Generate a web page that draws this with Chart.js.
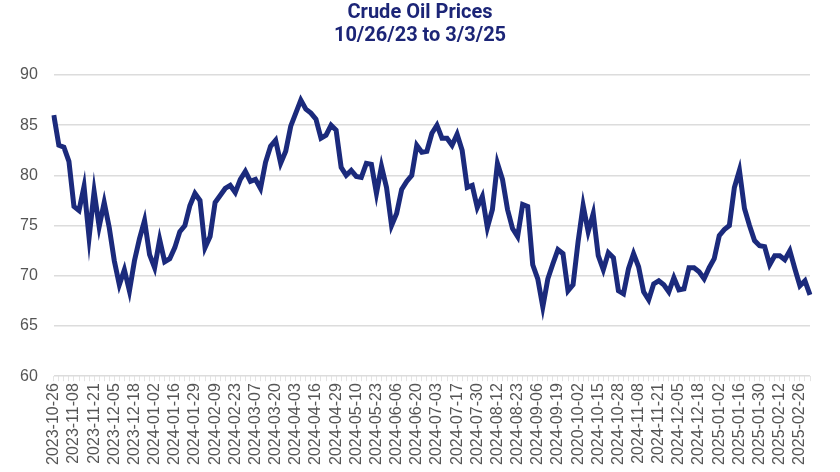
<!DOCTYPE html>
<html>
<head>
<meta charset="utf-8">
<script src="https://cdn.jsdelivr.net/npm/chart.js@4"></script>
<style>
  html, body { margin: 0; padding: 0; background: #fff; }
  #wrap { width: 840px; height: 472px; }
</style>
</head>
<body>
<div id="wrap"><canvas id="oilChart" width="840" height="472"></canvas></div>
<script>
const titleLines = ['Crude Oil Prices', '10/26/23 to 3/3/25'];

// tick labels shown on the x axis (one every 4 points)
const tickLabels = [
  '2023-10-26', '2023-11-08', '2023-11-21', '2023-12-05', '2023-12-18',
  '2024-01-02', '2024-01-16', '2024-01-29', '2024-02-09', '2024-02-23',
  '2024-03-07', '2024-03-20', '2024-04-03', '2024-04-16', '2024-04-29',
  '2024-05-10', '2024-05-23', '2024-06-06', '2024-06-20', '2024-07-03',
  '2024-07-17', '2024-07-30', '2024-08-12', '2024-08-23', '2024-09-06',
  '2024-09-19', '2020-10-02', '2024-10-15', '2024-10-28', '2024-11-08',
  '2024-11-21', '2024-12-05', '2024-12-18', '2025-01-02', '2025-01-16',
  '2025-01-30', '2025-02-12', '2025-02-26'
];

// crude oil price, $/bbl
const prices = [
  86.0, 83.0, 82.8, 81.4, 76.9, 76.5, 78.9, 73.8, 78.4, 74.9,
  77.3, 74.8, 71.5, 69.1, 70.6, 68.5, 71.5, 73.7, 75.5, 72.1,
  70.8, 73.6, 71.4, 71.7, 72.8, 74.4, 75.0, 77.0, 78.2, 77.5,
  72.8, 73.9, 77.3, 78.0, 78.7, 79.0, 78.3, 79.6, 80.4, 79.4,
  79.6, 78.7, 81.3, 82.9, 83.5, 81.2, 82.4, 84.9, 86.2, 87.5,
  86.6, 86.2, 85.6, 83.7, 84.0, 85.0, 84.5, 80.8, 80.0, 80.5,
  79.9, 79.8, 81.2, 81.1, 78.2, 80.9, 78.8, 75.0, 76.2, 78.6,
  79.4, 80.0, 83.0, 82.3, 82.4, 84.2, 85.0, 83.7, 83.7, 83.0,
  84.1, 82.5, 78.8, 79.0, 76.8, 77.9, 74.8, 76.6, 81.2, 79.6,
  76.6, 74.7, 73.9, 77.1, 76.9, 71.1, 69.7, 66.9, 69.7, 71.2,
  72.6, 72.2, 68.5, 69.1, 73.4, 77.0, 74.4, 76.2, 72.0, 70.6,
  72.3, 71.8, 68.5, 68.2, 70.7, 72.2, 70.9, 68.4, 67.6, 69.2,
  69.5, 69.1, 68.4, 69.8, 68.6, 68.7, 70.8, 70.8, 70.4, 69.7,
  70.8, 71.7, 74.0, 74.6, 75.0, 78.8, 80.5, 76.7, 75.0, 73.5,
  73.0, 72.9, 71.1, 72.0, 72.0, 71.6, 72.5, 70.7, 69.0, 69.5,
  68.1
];

const yTicks = { min: 60, max: 90, step: 5 };

const labels = prices.map((_, i) => (i % 4 === 0 && tickLabels[i / 4]) ? tickLabels[i / 4] : '');

// title centred on the whole canvas, not on the padded layout box
const canvasTitle = {
  id: 'canvasTitle',
  afterDraw(chart) {
    const c = chart.ctx;
    c.save();
    c.fillStyle = '#1c2577';
    c.font = 'bold 20px Roboto';
    c.textAlign = 'center';
    c.textBaseline = 'middle';
    c.fillText(titleLines[0], chart.width / 2, 13);
    c.fillText(titleLines[1], chart.width / 2, 36);
    c.restore();
  }
};

const ctx = document.getElementById('oilChart').getContext('2d');
new Chart(ctx, {
  type: 'line',
  data: {
    labels: labels,
    datasets: [{
      data: prices,
      borderColor: '#1b2a7c',
      borderWidth: 5,
      pointRadius: 0,
      tension: 0,
      fill: false
    }]
  },
  options: {
    responsive: false,
    animation: false,
    layout: { padding: { left: 4, right: 30, top: 75, bottom: 5 } },
    plugins: {
      legend: { display: false },
      tooltip: { enabled: false },
      title: { display: false }
    },
    scales: {
      x: {
        border: { display: false },
        grid: { display: true, drawOnChartArea: false, color: '#e4e4e4', tickLength: 5 },
        ticks: {
          autoSkip: false,
          maxRotation: 90,
          minRotation: 90,
          padding: 2,
          color: '#555',
          font: { family: 'Liberation Sans', size: 16 }
        }
      },
      y: {
        min: yTicks.min,
        max: yTicks.max,
        border: { display: false },
        grid: { color: '#dcdcdc', lineWidth: 1.5, drawTicks: false },
        ticks: {
          stepSize: yTicks.step,
          padding: 16,
          color: '#555',
          font: { family: 'Liberation Sans', size: 16 }
        }
      }
    }
  },
  plugins: [canvasTitle]
});
</script>
</body>
</html>
